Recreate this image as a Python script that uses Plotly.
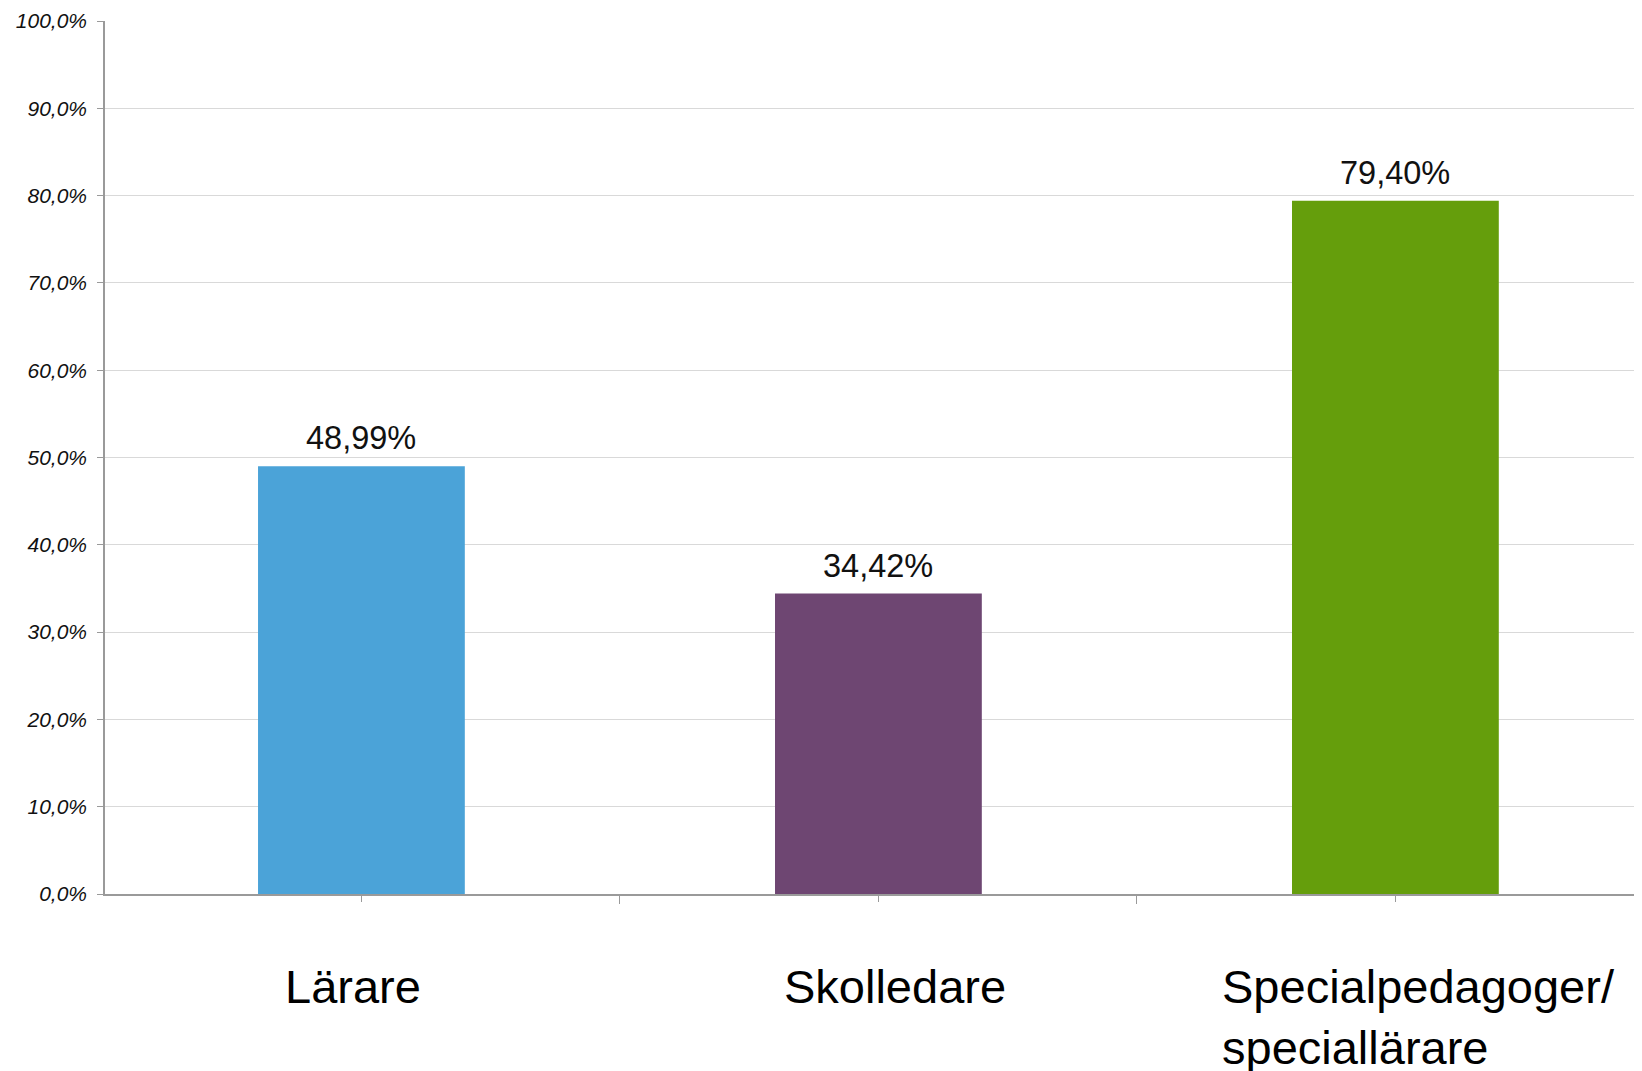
import plotly.graph_objects as go

categories = ["Lärare", "Skolledare", "Specialpedagoger/<br>speciallärare"]
values = [0.4899, 0.3442, 0.7940]
colors = ["#4BA3D8", "#6E4672", "#659E0C"]
y_ticks = [0, 0.1, 0.2, 0.3, 0.4, 0.5, 0.6, 0.7, 0.8, 0.9, 1.0]

x_idx = list(range(len(categories)))

fig = go.Figure()
fig.add_trace(go.Bar(
    x=x_idx, y=values, marker=dict(color=colors, line=dict(width=0)),
    width=0.4, hoverinfo="skip",
))

# value labels
for xi, v in zip(x_idx, values):
    fig.add_annotation(
        x=xi, y=v, xref="x", yref="y",
        text=f"{v*100:.2f}%".replace(".", ","),
        showarrow=False, yanchor="bottom", yshift=8,
        font=dict(family="Liberation Sans, Arial", size=32.5, color="#111111"),
    )

# category labels
label_shift = [-8, 17, -175]
label_align = ["center", "center", "left"]
label_xanchor = ["center", "center", "left"]
for xi, lab, sh, al, xa in zip(x_idx, categories, label_shift, label_align, label_xanchor):
    fig.add_annotation(
        x=xi, y=0, xref="x", yref="y",
        text=lab, showarrow=False, xanchor=xa, yanchor="top", align=al,
        xshift=sh, yshift=-64,
        font=dict(family="Liberation Sans, Arial", size=47, color="#000000"),
    )

fig.update_layout(
    width=1634, height=1063,
    margin=dict(l=97, r=0, t=13, b=177),
    plot_bgcolor="white", paper_bgcolor="white",
    separators=", ",
    showlegend=False,
    xaxis=dict(
        range=[-0.496, 2.477], tickvals=x_idx, ticktext=["", "", ""],
        showline=True, linecolor="#9A9A9A", linewidth=1.5,
        ticks="outside", ticklen=6, tickcolor="#9A9A9A",
        showgrid=False, zeroline=False,
        minor=dict(tickvals=[0.5, 1.5], ticks="outside", ticklen=8, tickcolor="#9A9A9A", showgrid=False),
    ),
    yaxis=dict(
        range=[0, 1], tickvals=y_ticks, tickformat=".1%",
        showline=True, linecolor="#9A9A9A", linewidth=1.5,
        ticks="outside", ticklen=6, tickcolor="#9A9A9A",
        showgrid=True, gridcolor="#D9D9D9", gridwidth=1, zeroline=False,
        tickfont=dict(family="Liberation Sans, Arial", size=21, color="#111111", style="italic"),
        ticklabelstandoff=6,
    ),
)

fig.write_html("out.html")
